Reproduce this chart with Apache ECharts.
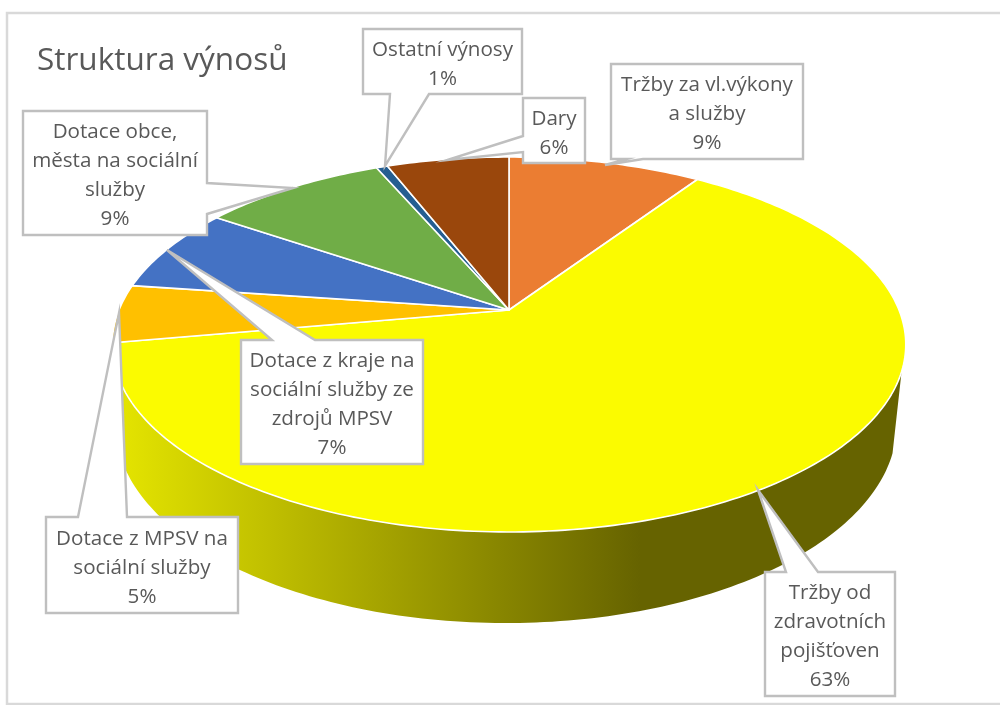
<!DOCTYPE html>
<html>
<head>
<meta charset="utf-8">
<style>html,body{margin:0;padding:0;background:#fff}#c{width:1000px;height:705px}</style>
<script src="https://cdn.jsdelivr.net/npm/echarts@6/dist/echarts.min.js"></script>
</head>
<body>
<div id="c"></div>
<script>
// ---- data ----
const chartTitle = 'Struktura výnosů';
const categories = [
  'Tržby za vl.výkony\na služby',
  'Tržby od\nzdravotních\npojišťoven',
  'Dotace z MPSV na\nsociální služby',
  'Dotace z kraje na\nsociální služby ze\nzdrojů MPSV',
  'Dotace obce,\nměsta na sociální\nslužby',
  'Ostatní výnosy',
  'Dary'
];
const values = [9.4, 62.8, 5.0, 7.3, 9.0, 0.55, 5.95];
const percentLabels = ['9%', '63%', '5%', '7%', '9%', '1%', '6%'];
const sliceColors = ['#EB7D32', '#FBFB00', '#FFC000', '#4472C4', '#70AD47', '#255E91', '#9A470C'];

// ---- layout (projection of the tilted disc, callout boxes) ----
const view = { cx: 509, apexY: 310, a: 124.1, c: 0.184, R: 390, lowerCx: 506, lowerApexY: 388, lowerA: 120.4, lowerR: 384 };
const wallRange = [108.7, 247];
const callouts = [
  { box: [611, 64, 803, 159], side: 'b', base: [627, 643], tip: [605, 165] },
  { box: [765, 572, 895, 696], side: 't', base: [786, 818], tip: [758, 490] },
  { box: [46, 517, 238, 613], side: 't', base: [78, 127], tip: [119, 313] },
  { box: [241, 340, 423, 464], side: 't', base: [272, 315], tip: [167, 250] },
  { box: [23, 111, 207, 235], side: 'r', base: [183, 214], tip: [293, 188] },
  { box: [363, 29, 522, 94], side: 'b', base: [390, 429], tip: [385, 166] },
  { box: [523, 98, 585, 163], side: 'l', base: [136, 152], tip: [447, 160] }
];

const total = values.reduce((s, v) => s + v, 0);
function project(deg, lower) {
  const t = deg * Math.PI / 180, v = -Math.cos(t), d = 1 - view.c * v;
  const R = lower ? view.lowerR : view.R;
  const a = lower ? view.lowerA : view.a;
  const y0 = lower ? view.lowerApexY : view.apexY;
  const x0 = lower ? view.lowerCx : view.cx;
  return [x0 + R * Math.sin(t) / d, (a * v + y0) / d];
}
function arc(from, to, lower) {
  const pts = [], n = Math.max(2, Math.ceil(Math.abs(to - from)));
  for (let i = 0; i <= n; i++) pts.push(project(from + (to - from) * i / n, lower));
  return pts;
}
const starts = [];
values.reduce((acc, v, i) => { starts[i] = acc; return acc + v; }, 0);
const startDeg = i => starts[i] / total * 360;
const endDeg = i => (starts[i] + values[i]) / total * 360;

function renderWall(params) {
  const i = params.dataIndex;
  const from = Math.max(startDeg(i), wallRange[0]), to = Math.min(endDeg(i), wallRange[1]);
  if (to <= from) return { type: 'group', children: [] };
  const pts = arc(from, to, false).concat(arc(to, from, true));
  return {
    type: 'polygon',
    shape: { points: pts },
    style: {
      fill: new echarts.graphic.LinearGradient(120, 0, 640, 0, [
        { offset: 0, color: '#E4E400' },
        { offset: 1, color: '#666300' }
      ], true),
      stroke: 'none'
    },
    silent: true
  };
}
function renderSlice(params) {
  const i = params.dataIndex;
  const pts = [[view.cx, view.apexY]].concat(arc(startDeg(i), endDeg(i), false));
  return {
    type: 'polygon',
    shape: { points: pts },
    style: { fill: sliceColors[i], stroke: '#FFFFFF', lineWidth: 1.6, lineJoin: 'round' },
    silent: true
  };
}
function renderCallout(params) {
  const i = params.dataIndex, c = callouts[i];
  const [l, t, r, b] = c.box, [p, q] = c.base;
  let pts;
  if (c.side === 'b') pts = [[l, t], [r, t], [r, b], [q, b], c.tip, [p, b], [l, b]];
  if (c.side === 't') pts = [[l, t], [p, t], c.tip, [q, t], [r, t], [r, b], [l, b]];
  if (c.side === 'r') pts = [[l, t], [r, t], [r, p], c.tip, [r, q], [r, b], [l, b]];
  if (c.side === 'l') pts = [[l, t], [r, t], [r, b], [l, b], [l, q], c.tip, [l, p]];
  return {
    type: 'group',
    children: [
      {
        type: 'polygon',
        shape: { points: pts },
        style: { fill: '#FFFFFF', stroke: '#BFBFBF', lineWidth: 2.4, lineJoin: 'miter' },
        silent: true
      },
      {
        type: 'text',
        style: {
          x: (l + r) / 2, y: (t + b) / 2 + 3,
          text: categories[i] + '\n' + percentLabels[i],
          fill: '#595959', align: 'center', verticalAlign: 'middle',
          font: '20.6px "Open Sans"', lineHeight: 29
        },
        silent: true
      }
    ]
  };
}

const chart = echarts.init(document.getElementById('c'), null, { renderer: 'canvas' });
chart.setOption({
  animation: false,
  backgroundColor: '#FFFFFF',
  title: {
    text: chartTitle, left: 37, top: 45, padding: 0,
    textStyle: { color: '#595959', fontFamily: 'Open Sans', fontSize: 31.5, fontWeight: 'normal' }
  },
  graphic: [{
    type: 'rect', z: -1, silent: true,
    shape: { x: 7, y: 13, width: 1100, height: 691 },
    style: { fill: 'none', stroke: '#D9D9D9', lineWidth: 2.5 }
  }],
  series: [
    { type: 'custom', coordinateSystem: 'none', renderItem: renderWall, data: values, z: 2, silent: true },
    { type: 'custom', coordinateSystem: 'none', renderItem: renderSlice, data: values, z: 3, silent: true },
    { type: 'custom', coordinateSystem: 'none', renderItem: renderCallout, data: values, z: 4, silent: true }
  ]
});
</script>
</body>
</html>
